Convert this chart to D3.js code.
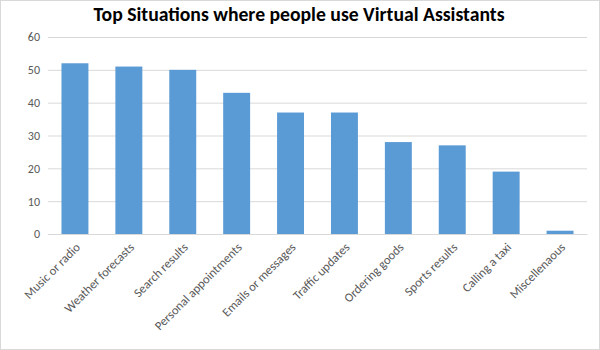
<!DOCTYPE html>
<html><head><meta charset="utf-8">
<script src="https://cdn.jsdelivr.net/npm/d3@7"></script>
<style>body{margin:0;background:#fff}svg{display:block}</style>
</head><body>
<script>
const categories = ["Music or radio","Weather forecasts","Search results","Personal appointments","Emails or messages","Traffic updates","Ordering goods","Sports results","Calling a taxi","Miscellenaous"];
const values = [52,51,50,43,37,37,28,27,19,1];
const yTicks = [0,10,20,30,40,50,60];
const title = "Top Situations where people use Virtual Assistants";

const W=600,H=350;
const svg=d3.select("body").append("svg").attr("width",W).attr("height",H);
svg.append("rect").attr("x",0.5).attr("y",0.5).attr("width",W-1).attr("height",H-1).attr("fill","#fff").attr("stroke","#D9D9D9");
const m={left:48,right:13,top:37,bottom:116};
const x=d3.scaleBand().domain(categories).range([m.left,W-m.right]).paddingInner(0.5).paddingOuter(0.25);
const y=d3.scaleLinear().domain([0,60]).range([H-m.bottom,m.top]);

svg.append("text").attr("x",299).attr("y",21).attr("text-anchor","middle")
  .attr("font-family","Carlito, 'Open Sans', sans-serif").attr("font-weight","bold").attr("font-size",19.7)
  .attr("fill","#000").text(title);

const ga=svg.append("g").attr("transform",`translate(${m.left},0)`)
  .call(d3.axisLeft(y).tickValues(yTicks).tickSize(-(W-m.left-m.right)).tickPadding(8));
ga.select(".domain").remove();
ga.selectAll(".tick line").attr("stroke","#D9D9D9");
ga.selectAll(".tick text").attr("fill","#595959").attr("font-size",12).attr("font-family","Carlito, sans-serif");

svg.selectAll("rect.bar").data(values).join("rect").attr("class","bar")
  .attr("x",(d,i)=>x(categories[i])).attr("width",x.bandwidth())
  .attr("y",d=>y(d)).attr("height",d=>y(0)-y(d)).attr("fill","#5B9BD5");

const gx=svg.append("g").attr("transform",`translate(0,${H-m.bottom})`).call(d3.axisBottom(x).tickSize(0).tickPadding(0));
gx.select(".domain").attr("stroke","#D9D9D9");
gx.selectAll(".tick text").attr("fill","#595959").attr("font-size",12.5).attr("font-family","Carlito, sans-serif")
  .attr("text-anchor","end").attr("dy",0).attr("transform","translate(6,14) rotate(-45)");
</script>
</body></html>
